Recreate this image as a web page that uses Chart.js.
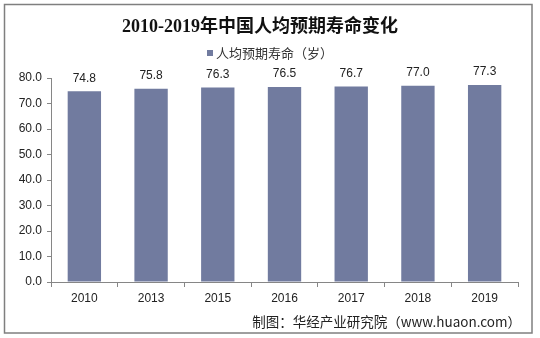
<!DOCTYPE html>
<html><head><meta charset="utf-8">
<script src="https://cdn.jsdelivr.net/npm/chart.js@4.4.1/dist/chart.umd.min.js"></script>
<style>html,body{margin:0;padding:0;background:#fff}#wrap{width:540px;height:338px;position:relative}</style>
</head><body><div id="wrap"><canvas id="c" width="540" height="338"></canvas></div>
<script>
const categories = ['2010','2013','2015','2016','2017','2018','2019'];
const lifeExpectancy = [74.8, 75.8, 76.3, 76.5, 76.7, 77.0, 77.3];
const seriesName = '人均预期寿命（岁）';
const titleText = '2010-2019年中国人均预期寿命变化';
const footerText = '制图：华经产业研究院（www.huaon.com）';
const yTicks = [0,10,20,30,40,50,60,70,80];

const BAR = '#717b9f';
const CJK = '"Noto Sans CJK SC", "Liberation Sans", sans-serif';

const decor = {
  id: 'decor',
  beforeDraw(chart) {
    const ctx = chart.ctx;
    ctx.save();
    ctx.fillStyle = '#fff';
    ctx.fillRect(0,0,chart.width,chart.height);
    ctx.strokeStyle = '#7f7f7f';
    ctx.lineWidth = 1.5;
    ctx.strokeRect(4.5,4.5,527.5,328.5);
    ctx.restore();
  },
  afterDraw(chart) {
    const ctx = chart.ctx;
    ctx.save();
    // title
    ctx.fillStyle = '#111';
    ctx.font = 'bold 18px "Liberation Serif", "Noto Sans CJK SC", serif';
    ctx.textAlign = 'center';
    ctx.textBaseline = 'middle';
    ctx.fillText(titleText, 260, 27);
    // legend
    ctx.font = '13px ' + CJK;
    ctx.textAlign = 'left';
    ctx.fillStyle = BAR;
    ctx.fillRect(207, 50, 6, 6);
    ctx.fillStyle = '#333';
    ctx.fillText(seriesName, 216, 53);
    // data labels
    const meta = chart.getDatasetMeta(0);
    ctx.font = '12px "Liberation Sans", Arial, sans-serif';
    ctx.textAlign = 'center';
    ctx.fillStyle = '#222';
    meta.data.forEach((bar, i) => {
      ctx.fillText(lifeExpectancy[i].toFixed(1), bar.x, bar.y - 13);
    });
    // footer
    ctx.font = '13.5px ' + CJK;
    ctx.textAlign = 'right';
    ctx.fillStyle = '#222';
    ctx.fillText(footerText, 521, 322);
    ctx.restore();
  }
};

new Chart(document.getElementById('c'), {
  type: 'bar',
  data: {
    labels: categories,
    datasets: [{ label: seriesName, data: lifeExpectancy, backgroundColor: BAR, barPercentage: 0.5, categoryPercentage: 1.0 }]
  },
  options: {
    responsive: false,
    animation: false,
    events: [],
    layout: { padding: { top: 78, left: 0, right: 22, bottom: 31 } },
    plugins: { legend: { display: false }, title: { display: false }, tooltip: { enabled: false } },
    scales: {
      x: {
        grid: { display: true, drawOnChartArea: false, drawTicks: true, tickLength: 5, color: '#868686', offset: true },
        border: { display: true, color: '#868686', width: 1 },
        ticks: { color: '#222', font: { family: '"Liberation Sans", Arial, sans-serif', size: 12 }, padding: 4, maxRotation: 0 },
        afterFit(s) { s.height = 25; }
      },
      y: {
        min: 0, max: 80,
        afterBuildTicks(s) { s.ticks = yTicks.map(v => ({ value: v })); },
        grid: { display: true, drawOnChartArea: false, drawTicks: true, tickLength: 4, color: '#868686' },
        border: { display: true, color: '#868686', width: 1 },
        ticks: { color: '#222', font: { family: '"Liberation Sans", Arial, sans-serif', size: 12 }, padding: 5, callback: v => Number(v).toFixed(1) },
        afterFit(s) { s.width = 51; }
      }
    }
  },
  plugins: [decor]
});
</script></body></html>
